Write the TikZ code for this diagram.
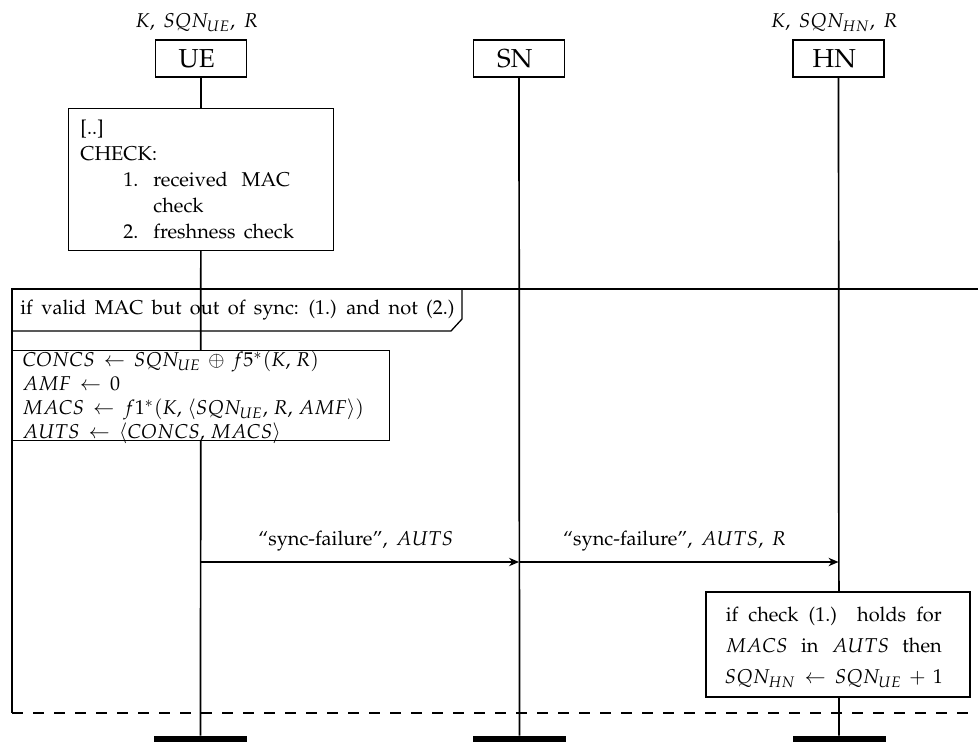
\documentclass[tikz,border=0pt]{standalone}
\usepackage[T1]{fontenc}
\usepackage{mathpazo}
\usetikzlibrary{arrows.meta}
\begin{document}
\begin{tikzpicture}[x=0.5pt,y=-0.5pt,
  actor/.style={draw, line width=0.65pt, minimum width=45.5pt, minimum height=18.5pt, inner sep=0pt, font=\fontsize{13}{15}\selectfont},
  life/.style={line width=0.85pt},
  procbox/.style={draw, fill=white, line width=0.65pt, inner sep=0pt},
  endbar/.style={fill=black, minimum width=46.5pt, minimum height=3pt, inner sep=0pt},
  msg/.style={line width=0.65pt, -{Stealth[length=5pt, width=4.2pt, inset=1.6pt]}},
  msglabel/.style={above, inner sep=5pt},
  framebox/.style={line width=0.65pt},
  varlabel/.style={anchor=south, inner sep=0pt},
  boxtext/.style={inner sep=0pt, align=left}
]
\spaceskip=4.2pt plus 2pt minus 1pt
\thickmuskip=8mu plus 2mu
\medmuskip=6.5mu plus 2mu
\thinmuskip=5mu
\useasboundingbox (0,0) rectangle (978,742);
\clip (0,0) rectangle (978,742);

% actors
\node[actor] (ue) at (201,58.5) {UE};
\node[actor] (sn) at (519,58.5) {SN};
\node[actor] (hn) at (838.5,58.5) {HN};
\node[varlabel] (uevar) at ([yshift=3.5pt]ue.north) {$K$, $SQN_{UE}$, $R$};
\node[varlabel] (hnvar) at ([yshift=3.5pt]hn.north) {$K$, $SQN_{HN}$, $R$};

% end bars
\node[endbar] (ueend) at (200.5,739) {};
\node[endbar] (snend) at (519.5,739) {};
\node[endbar] (hnend) at (839,739) {};

% lifelines
\draw[life] (ue) -- (ueend);
\draw[life] (sn) -- (snend);
\draw[life] (hn) -- (hnend);

% frame
\coordinate (fnw) at (12,289);
\coordinate (fsw) at (12,713);
\coordinate (fne) at (1000,289);
\coordinate (fse) at (1000,713);
\draw[framebox] (fsw) -- (fnw) -- (fne);
\draw[framebox, dash pattern=on 5.5pt off 5pt] (fsw) -- (fse);

% condition label
\node[anchor=west, inner sep=0pt] (cond) at (20,310) {if valid MAC but out of sync: (1.) and not (2.)};
\coordinate (c1) at (462,289);
\coordinate (c2) at (462,319);
\coordinate (c3) at (451,331);
\coordinate (c4) at (12,331);
\draw[framebox] (c1) -- (c2) -- (c3) -- (c4);

% check box
\node[procbox, anchor=north west, minimum width=132.5pt, minimum height=71pt] (check) at (68,108) {};
\node[boxtext, anchor=west] (checktext) at ([xshift=6pt]check.west) {%
[..]\\[1pt]
CHECK:\\[1pt]
\hspace*{21.5pt}\makebox[15pt][l]{1.}\makebox[68.5pt][s]{received MAC}\\[1pt]
\hspace*{36.5pt}check\\[1pt]
\hspace*{21.5pt}\makebox[15pt][l]{2.}freshness check};

% computation box
\node[procbox, anchor=north west, minimum width=188.5pt, minimum height=45pt] (comp) at (12,350) {};
\node[boxtext, anchor=west] (comptext) at ([xshift=5pt, yshift=-1pt]comp.west) {%
$CONCS \leftarrow SQN_{UE} \oplus f5^{*}(K,R)$\\
$AMF \leftarrow 0$\\
$MACS \leftarrow f1^{*}(K,\langle SQN_{UE},R,AMF\rangle)$\\
$AUTS \leftarrow \langle CONCS,MACS\rangle$};

% messages
\coordinate (y1) at (0,562);
\draw[msg] (ue |- y1) -- node[msglabel] (m1) {``sync-failure'', $AUTS$} (sn |- y1);
\draw[msg] (sn |- y1) -- node[msglabel] (m2) {``sync-failure'', $AUTS$, $R$} (hn |- y1);

% HN update box
\node[procbox, minimum width=132pt, minimum height=52.5pt] (upd) at (838,644.5) {};
\node[boxtext, align=center] (updtext) at ([yshift=-1.5pt]upd.center) {%
\makebox[108pt][s]{if check (1.)\ \ holds for}\\[3.5pt]
\makebox[108pt][s]{$MACS$ in $AUTS$ then}\\[3.5pt]
$SQN_{HN} \leftarrow SQN_{UE}+1$};
\end{tikzpicture}
\end{document}
